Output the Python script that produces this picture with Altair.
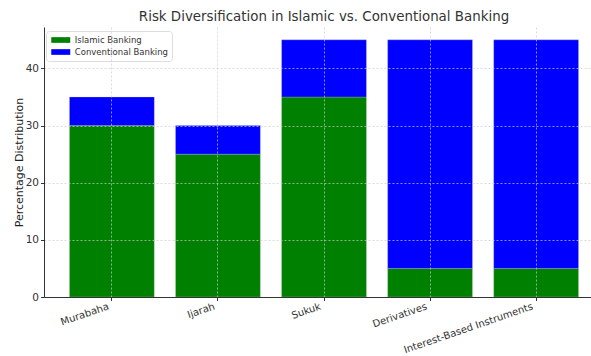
import altair as alt
import pandas as pd

categories = ["Murabaha", "Ijarah", "Sukuk", "Derivatives", "Interest-Based Instruments"]
islamic = [30, 25, 35, 5, 5]
conventional = [5, 5, 10, 40, 40]
series_names = ["Islamic Banking", "Conventional Banking"]
series_colors = ["#008000", "#0000ff"]

rows = []
for c, i, v in zip(categories, islamic, conventional):
    rows.append({"category": c, "series": series_names[0], "value": i, "ord": 0})
    rows.append({"category": c, "series": series_names[1], "value": v, "ord": 1})
df = pd.DataFrame(rows)

font = "DejaVu Sans"

chart = alt.Chart(df).mark_bar(stroke="#dcdcdc", strokeWidth=0.5, strokeOpacity=0.5).encode(
    x=alt.X("category:N", sort=categories, title=None,
            scale=alt.Scale(paddingInner=0.2, paddingOuter=0.24),
            axis=alt.Axis(labelAngle=-19, labelAlign="right", labelBaseline="top",
                          labelFontSize=10, labelColor="#333333", labelPadding=0.5,
                          labelOffset=-5,
                          grid=True, gridDash=[2, 2], gridColor="#cccccc", gridOpacity=0.7,
                          domainColor="#333333", tickColor="#333333", tickSize=3.5,
                          zindex=1)),
    y=alt.Y("value:Q", stack="zero", title="Percentage Distribution",
            scale=alt.Scale(domain=[0, 47.25], nice=False),
            axis=alt.Axis(values=[0, 10, 20, 30, 40], labelFontSize=10.5, labelColor="#333333",
                          titleFontSize=11, titleColor="#222222", titleFontWeight="normal",
                          grid=True, gridDash=[2, 2], gridColor="#cccccc", gridOpacity=0.7,
                          domainColor="#333333", tickColor="#333333", tickSize=3.5,
                          titlePadding=1, zindex=1)),
    color=alt.Color("series:N", sort=series_names,
                    scale=alt.Scale(domain=series_names, range=series_colors),
                    legend=alt.Legend(title=None, orient="none", legendX=2, legendY=4,
                                      symbolType="M-2,-0.6H2V0.6H-2Z", symbolSize=90,
                                      symbolStrokeWidth=0, symbolOffset=5.75,
                                      labelFontSize=8.5, labelColor="#333333",
                                      fillColor="white", strokeColor="#dddddd", padding=4,
                                      cornerRadius=3, rowPadding=2, labelOffset=9)),
    order=alt.Order("ord:Q"),
).properties(
    width=560, height=270,
    title=alt.Title("Risk Diversification in Islamic vs. Conventional Banking",
                    fontSize=13.4, fontWeight="normal", color="#333333", font=font, offset=4),
    padding={"left": 44, "top": 27, "right": -13, "bottom": 59},
    autosize=alt.AutoSizeParams(type="none"),
).configure(font=font).configure_view(stroke=None)

chart.save("out.html", embed_options={"renderer": "svg", "actions": False})
